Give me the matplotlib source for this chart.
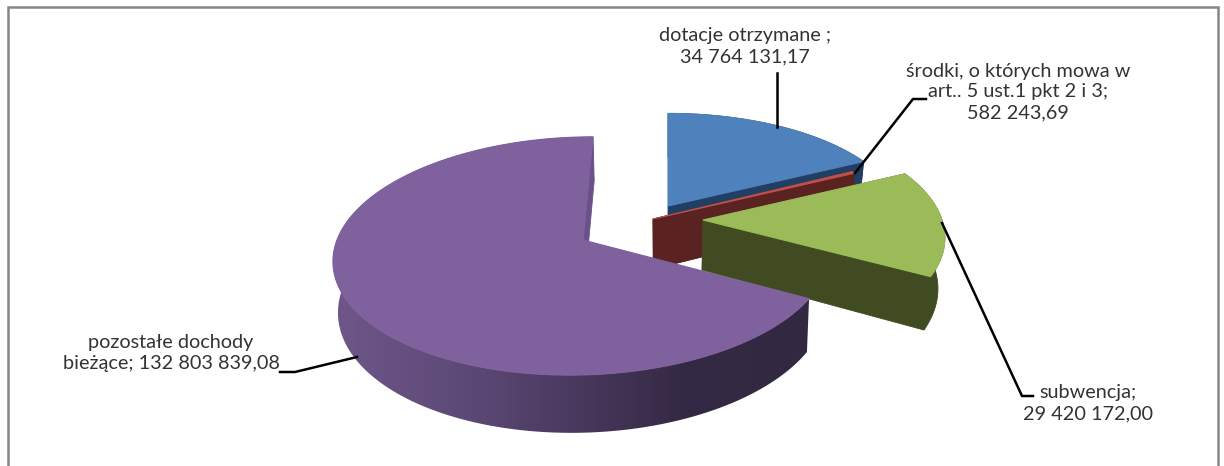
# 3D exploded pie, drawn by hand because matplotlib has no perspective pie.
import matplotlib
matplotlib.use("Agg")
import matplotlib.pyplot as plt
from matplotlib.colors import to_rgb
import numpy as np

names = ["dotacje otrzymane ;\n", "środki, o których mowa w\nart.. 5 ust.1 pkt 2 i 3;\n",
         "subwencja;\n", "pozostałe dochody\nbieżące; "]
values = [34764131.17, 582243.69, 29420172.00, 132803839.08]

# slice geometry in pixels: apex x, apex y, radius x, radius y, bottom rim shrink
apex_x = [668, 653, 703, 583]
apex_y = [206, 219, 220, 240]
rad_x = [232, 235, 239, 246]
rad_y = [105, 112, 113, 117]
shrink = [0.975, 0.975, 0.975, 0.985]
top_col = ["#4f81bd", "#c0504d", "#9bbb59", "#7f619d"]
wall_col = ["#203f63", "#5a2321", "#404b22", "#6a5288"]
label_xy = [(745, 46), (1018, 92), (1088, 403), (171, 353)]
leaders = [[(777, 73), (777, 127)],
           [(926, 99), (913, 99), (855, 173)],
           [(942, 223), (1022, 396), (1033, 396)],
           [(280, 372), (295, 372), (357, 357)]]
# purple side wall shading, left to right
shade_x = [335, 450, 560, 680, 810]
shade_c = ["#6e5689", "#5f4b7a", "#4c3b62", "#352a45", "#322841"]

VX, K, DEPTH = 668, 0.134, 50


def proj(i, ang, r=1.0, bottom=False):
    a = np.radians(ang)
    u, v = r * np.sin(a), -r * np.cos(a)
    s = 1 / (1 - K * v)
    x = apex_x[i] - VX + rad_x[i] * u
    y = rad_y[i] * v + (DEPTH if bottom else 0)
    if bottom:
        x = x * shrink[i]
    return np.column_stack([VX + x * s, apex_y[i] + y * s])


def fmt(v):
    return f"{v:,.2f}".replace(",", " ").replace(".", ",")


fig = plt.figure(figsize=(12.24, 4.66), dpi=100, facecolor="white")
ax = fig.add_axes([0, 0, 1, 1])
ax.axis("off")

# chart frame, runs off the bottom of the image
ax.plot([8, 8, 1218, 1218], [466, 7, 7, 466], color="#868686", lw=1.8, solid_joinstyle="miter")

edges = np.concatenate([[0], np.cumsum(values)]) / np.sum(values) * 360
shade_rgb = np.array([to_rgb(c) for c in shade_c])
grad_x = np.arange(shade_x[0], shade_x[-1])
grad = np.column_stack([np.interp(grad_x, shade_x, shade_rgb[:, k]) for k in range(3)])[None, :, :]

for i in range(len(values)):
    t = np.linspace(edges[i], edges[i + 1], max(int(edges[i + 1] - edges[i]) * 2, 4))
    top = proj(i, t)
    bot = proj(i, t, bottom=True)
    c_top = proj(i, t, 0.0)[0]
    c_bot = proj(i, t, 0.0, bottom=True)[0]
    z = 2 + i * 3
    # the two cut faces
    start = [c_top, top[0], bot[0], c_bot]
    end = [c_top, top[-1], bot[-1], c_bot]
    if i < 3:
        ax.add_patch(plt.Polygon(start, color=wall_col[i], lw=0.6, zorder=z))
    ax.add_patch(plt.Polygon(end, color=wall_col[i], lw=0.6, zorder=z))
    wall = np.vstack([top, bot[::-1]])
    if i == 3:
        # front of the big slice gets the dark gradient, the hidden back stays flat
        front = t <= 270
        back = t >= 270
        ax.add_patch(plt.Polygon(np.vstack([top[back], bot[back][::-1]]), color=wall_col[i], lw=0, zorder=z))
        clip = plt.Polygon(np.vstack([top[front], bot[front][::-1]]), transform=ax.transData)
        ax.imshow(grad, extent=(shade_x[0], shade_x[-1], 440, 240), aspect="auto",
                  interpolation="bilinear", clip_path=clip, zorder=z)
    else:
        ax.add_patch(plt.Polygon(wall, color=wall_col[i], lw=0.6, zorder=z))
    ax.add_patch(plt.Polygon(np.vstack([c_top, top]), color=top_col[i], lw=0.8, zorder=z + 1))

for i, n in enumerate(names):
    ax.text(*label_xy[i], n + fmt(values[i]), ha="center", va="center", fontsize=14.3,
            family="Lato", color="#333333", linespacing=1.27, zorder=20)
    xs, ys = zip(*leaders[i])
    ax.plot(xs, ys, color="black", lw=1.8, zorder=20, solid_joinstyle="round")

ax.set_xlim(0, 1224); ax.set_ylim(466, 0)
fig.savefig("out.png", dpi=100)
